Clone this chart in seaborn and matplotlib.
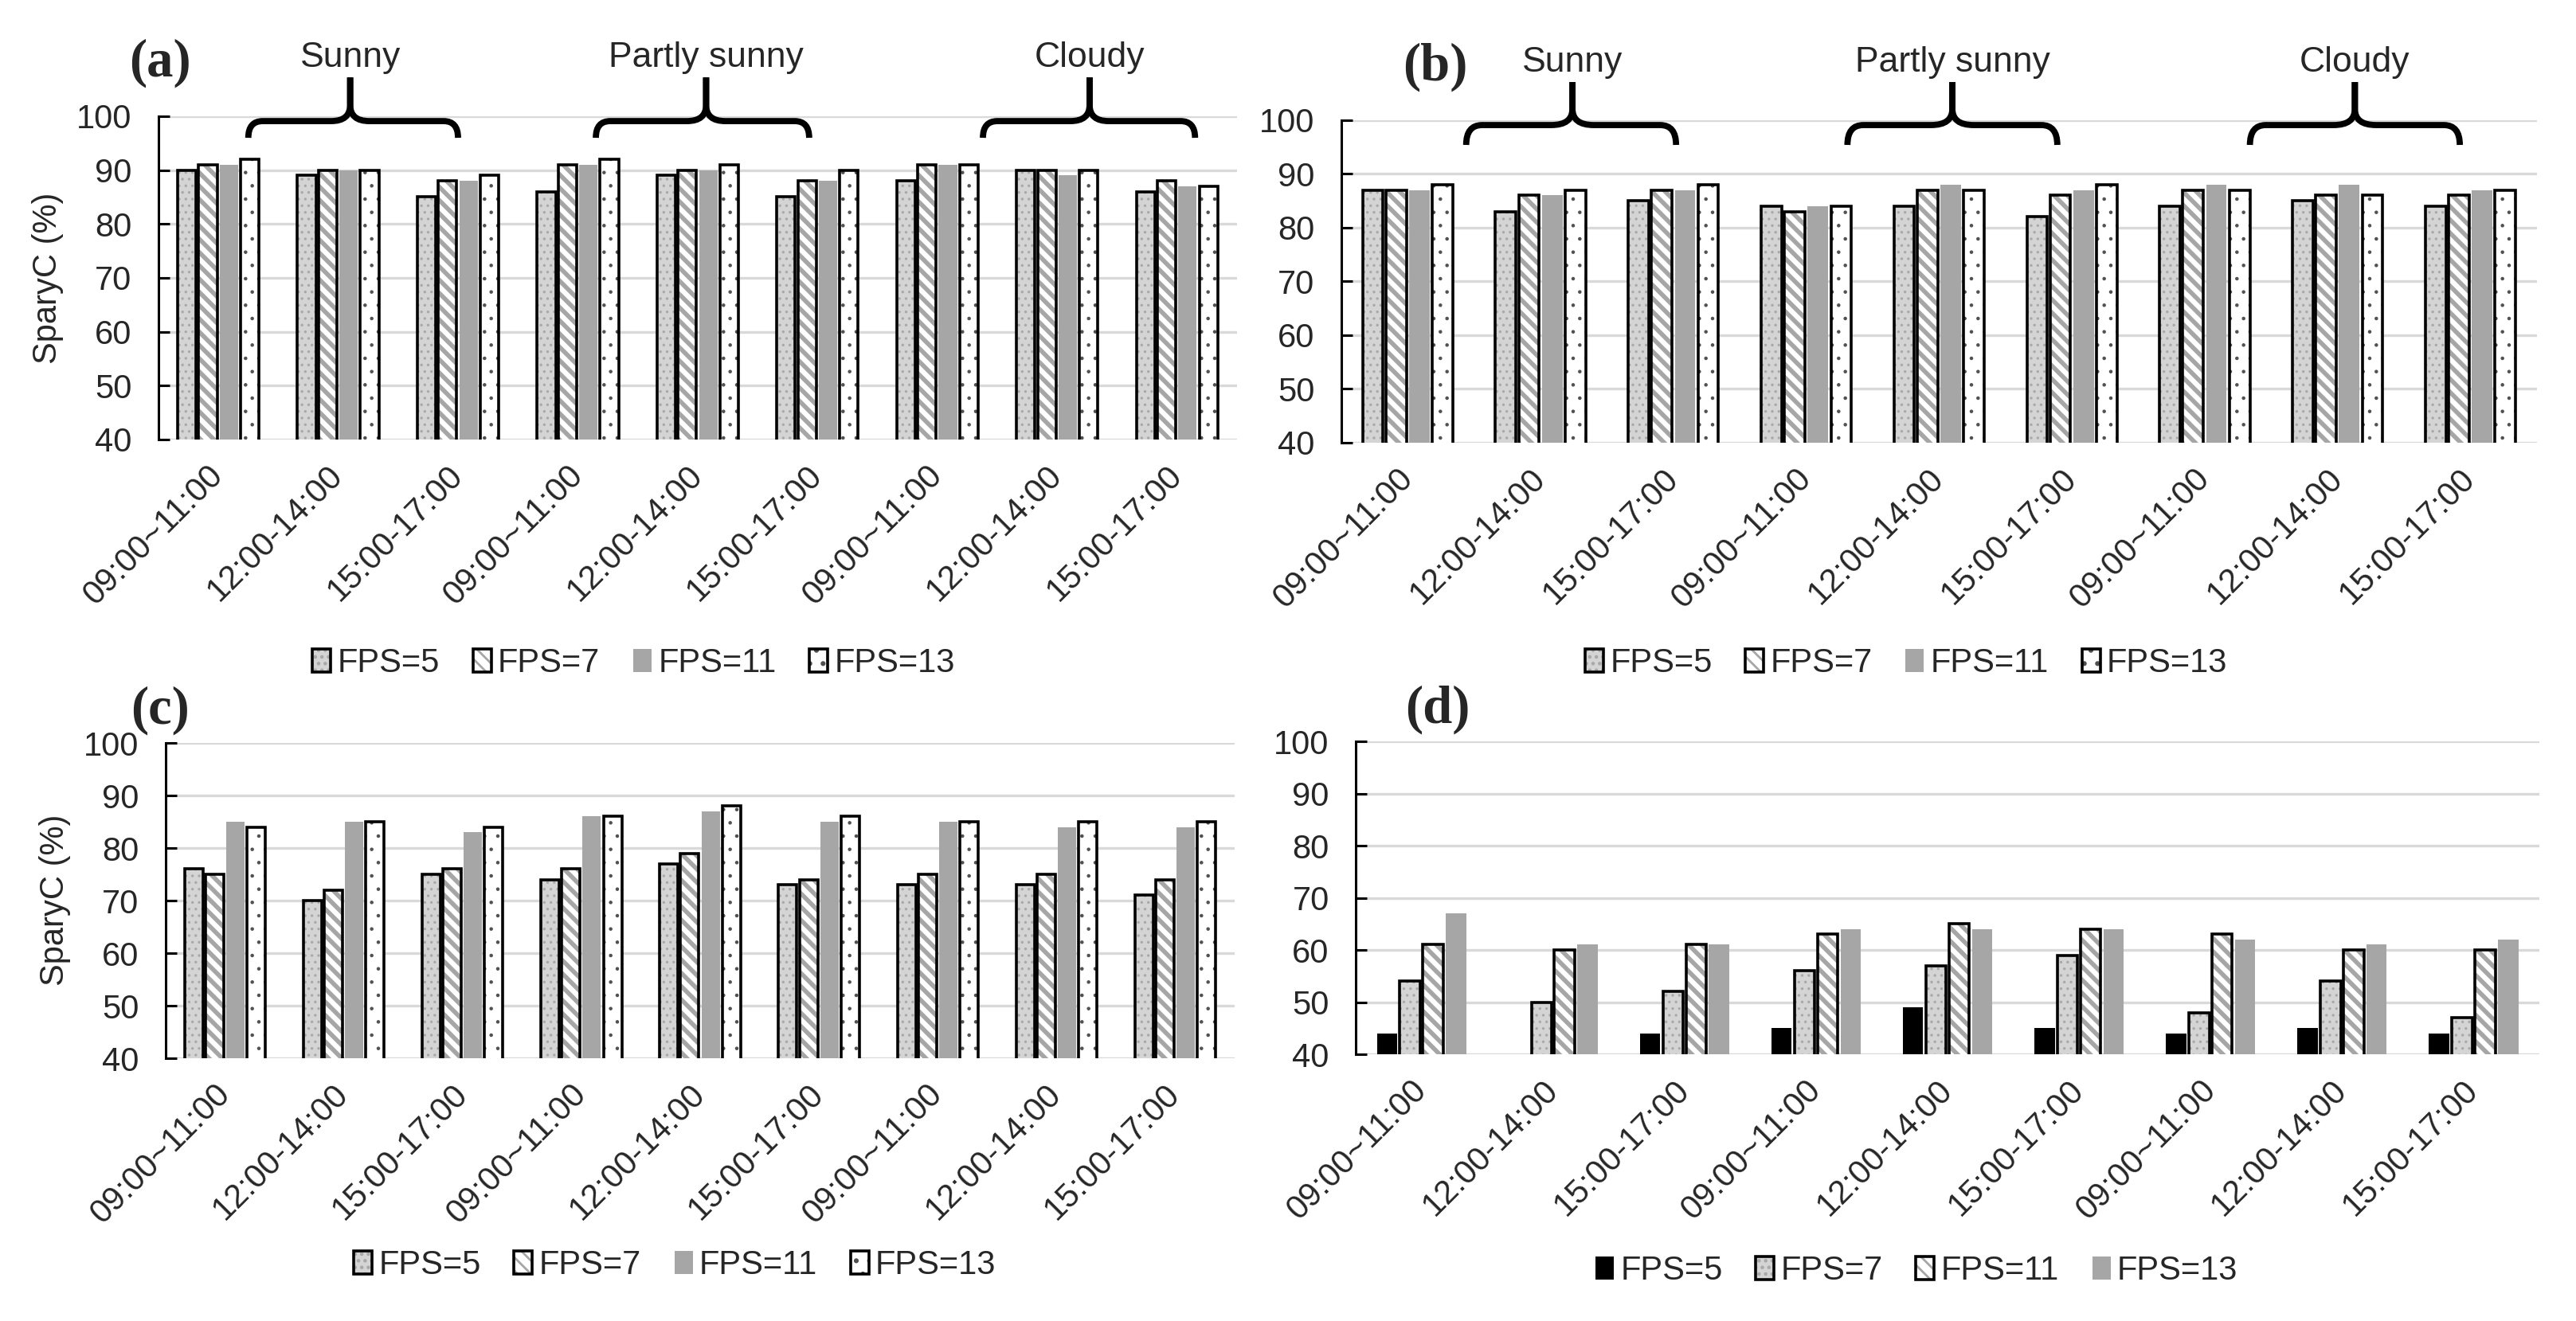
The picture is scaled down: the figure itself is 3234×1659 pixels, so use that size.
import pandas as pd
import seaborn as sns
import matplotlib.pyplot as plt
from matplotlib.patches import Patch, Rectangle, PathPatch
from matplotlib.path import Path
from matplotlib.legend_handler import HandlerTuple

# x categories (three weather blocks of three time windows)
periods = ["09:00~11:00", "12:00-14:00", "15:00-17:00"] * 3
weather = ["Sunny", "Partly sunny", "Cloudy"]
fps_levels = ["FPS=5", "FPS=7", "FPS=11", "FPS=13"]

# panel (a)
a_fps5 = [90, 89, 85, 86, 89, 85, 88, 90, 86]
a_fps7 = [91, 90, 88, 91, 90, 88, 91, 90, 88]
a_fps11 = [91, 90, 88, 91, 90, 88, 91, 89, 87]
a_fps13 = [92, 90, 89, 92, 91, 90, 91, 90, 87]

# panel (b)
b_fps5 = [87, 83, 85, 84, 84, 82, 84, 85, 84]
b_fps7 = [87, 86, 87, 83, 87, 86, 87, 86, 86]
b_fps11 = [87, 86, 87, 84, 88, 87, 88, 88, 87]
b_fps13 = [88, 87, 88, 84, 87, 88, 87, 86, 87]

# panel (c)
c_fps5 = [76, 70, 75, 74, 77, 73, 73, 73, 71]
c_fps7 = [75, 72, 76, 76, 79, 74, 75, 75, 74]
c_fps11 = [85, 85, 83, 86, 87, 85, 85, 84, 84]
c_fps13 = [84, 85, 84, 86, 88, 86, 85, 85, 85]

# panel (d)
d_fps5 = [44, 40, 44, 45, 49, 45, 44, 45, 44]
d_fps7 = [54, 50, 52, 56, 57, 59, 48, 54, 47]
d_fps11 = [61, 60, 61, 63, 65, 64, 63, 60, 60]
d_fps13 = [67, 61, 61, 64, 64, 64, 62, 61, 62]

sns.set_style("white")
plt.rcParams["font.family"] = ["Liberation Sans", "DejaVu Sans"]
plt.rcParams["hatch.linewidth"] = 1.0

GRAY = "#a6a6a6"

# bar looks: face, hatch, hatch colour, hatch width, outline
style_abc = {
    "FPS=5": dict(face="#d4d4d4", hatch="....", hcolor="#a8a8a8", hlw=0.6, edge="black"),
    "FPS=7": dict(face="white", hatch="\\\\\\\\", hcolor=GRAY, hlw=2.0, edge="black"),
    "FPS=11": dict(face=GRAY, hatch="", hcolor=GRAY, hlw=1.0, edge=None),
    "FPS=13": dict(face="white", hatch="..", hcolor="#505050", hlw=0.4, edge="black"),
}
style_d = {
    "FPS=5": dict(face="black", hatch="", hcolor="black", hlw=1.0, edge=None),
    "FPS=7": dict(face="#d4d4d4", hatch="....", hcolor="#a8a8a8", hlw=0.6, edge="black"),
    "FPS=11": dict(face="white", hatch="\\\\\\\\", hcolor=GRAY, hlw=2.0, edge="black"),
    "FPS=13": dict(face=GRAY, hatch="", hcolor=GRAY, hlw=1.0, edge=None),
}


def make_frame(series):
    rows = []
    for fps, vals in zip(fps_levels, series):
        for i, v in enumerate(vals):
            rows.append({"slot": f"s{i}", "fps": fps, "value": v})
    return pd.DataFrame(rows)


def apply_look(p, st):
    p.set_facecolor(st["face"])
    p.set_hatch(st["hatch"])
    p.set_edgecolor(st["hcolor"])
    p.set_linewidth(0)
    if hasattr(p, "set_hatch_linewidth"):
        p.set_hatch_linewidth(st["hlw"])


def style_bars(ax, styles):
    for fps, cont in zip(fps_levels, ax.containers):
        st = styles[fps]
        for p in cont.patches:
            apply_look(p, st)
            if st["edge"]:
                ax.add_patch(Rectangle((p.get_x(), p.get_y()), p.get_width(), p.get_height(),
                                       fill=False, edgecolor=st["edge"], lw=1.3, zorder=p.get_zorder() + 0.1))


def legend_handles(styles):
    handles = []
    for fps in fps_levels:
        st = styles[fps]
        base = Patch()
        apply_look(base, st)
        if st["edge"]:
            handles.append((base, Patch(fill=False, edgecolor=st["edge"], lw=1.3)))
        else:
            handles.append((base,))
    return handles


def draw_brace(ax, x0, x1, xt, y_low, y_mid, y_tip, label, label_y):
    r, rt, dy = 0.12, 0.16, 3.0
    codes = [Path.MOVETO, Path.CURVE3, Path.CURVE3, Path.LINETO, Path.CURVE3, Path.CURVE3, Path.LINETO]
    left = [(x0, y_low), (x0, y_mid), (x0 + r, y_mid), (xt - rt, y_mid), (xt, y_mid), (xt, y_mid + dy), (xt, y_tip)]
    right = [(x1, y_low), (x1, y_mid), (x1 - r, y_mid), (xt + rt, y_mid), (xt, y_mid), (xt, y_mid + dy), (xt, y_tip)]
    for verts in (left, right):
        ax.add_patch(PathPatch(Path(verts, codes), fill=False, lw=2.8, edgecolor="black",
                               clip_on=False, capstyle="butt", joinstyle="round"))
    ax.text(xt, label_y, label, ha="center", va="center", fontsize=16, clip_on=False)


def draw_panel(fig, rect, series, styles, legend_xy, ylabel=None):
    ax = fig.add_axes(rect)
    df = make_frame(series)
    sns.barplot(data=df, x="slot", y="value", hue="fps", hue_order=fps_levels,
                order=[f"s{i}" for i in range(len(periods))], width=0.7, gap=0.12,
                errorbar=None, legend=False, ax=ax)
    style_bars(ax, styles)
    ax.set_ylim(40, 100)
    ax.set_xlim(-0.5, len(periods) - 0.5)
    ax.set_yticks(range(40, 101, 10))
    ax.yaxis.grid(True, color="#d9d9d9", lw=1.2)
    ax.xaxis.grid(False)
    ax.set_axisbelow(True)
    for s in ["top", "right", "bottom"]:
        ax.spines[s].set_visible(False)
    ax.spines["left"].set_color("black")
    ax.spines["left"].set_linewidth(1.1)
    ax.tick_params(axis="y", direction="in", length=5, width=1.1, color="black",
                   labelsize=15, pad=12, left=True)
    ax.tick_params(axis="x", length=0, labelsize=15, pad=14)
    ax.set_xticks(range(len(periods)))
    ax.set_xticklabels(periods, rotation=45, ha="right", va="center", rotation_mode="anchor")
    ax.set_xlabel("")
    ax.set_ylabel("")
    if ylabel:
        fig.text(ylabel[0], ylabel[1], "SparyC (%)", rotation=90, ha="center", va="center", fontsize=15)
    fig.legend(legend_handles(styles), fps_levels, loc="center", bbox_to_anchor=legend_xy,
               ncol=4, frameon=False, fontsize=15, handlelength=0.55, handleheight=0.7,
               handletextpad=0.2, columnspacing=1.0,
               handler_map={tuple: HandlerTuple(ndivide=1, pad=0)})
    return ax


fig = plt.figure(figsize=(16.17, 8.295), dpi=200)

ax_a = draw_panel(fig, [0.0615, 0.6673, 0.4187, 0.2447], [a_fps5, a_fps7, a_fps11, a_fps13],
                  style_abc, (0.246, 0.498), ylabel=(0.0186, 0.7897))
ax_b = draw_panel(fig, [0.5207, 0.6649, 0.4641, 0.2441], [b_fps5, b_fps7, b_fps11, b_fps13],
                  style_abc, (0.740, 0.498))
ax_c = draw_panel(fig, [0.0643, 0.1989, 0.4150, 0.2387], [c_fps5, c_fps7, c_fps11, c_fps13],
                  style_abc, (0.262, 0.042), ylabel=(0.0213, 0.3187))
ax_d = draw_panel(fig, [0.5263, 0.2019, 0.4595, 0.2369], [d_fps5, d_fps7, d_fps11, d_fps13],
                  style_d, (0.744, 0.038))

# weather braces over (a) and (b)
for (x0, x1, xt), name in zip([(0.25, 2.0, 1.1), (3.15, 4.93, 4.07), (6.38, 8.15, 7.27)], weather):
    draw_brace(ax_a, x0, x1, xt, 96.0, 99.1, 107.2, name, 110.8)
for (x0, x1, xt), name in zip([(0.44, 2.02, 1.24), (3.31, 4.89, 4.1), (6.34, 7.92, 7.13)], weather):
    draw_brace(ax_b, x0, x1, xt, 95.4, 99.1, 107.1, name, 110.8)

# panel letters
for (x, y), letter in zip([(0.062, 0.952), (0.557, 0.949), (0.062, 0.462), (0.558, 0.463)], "abcd"):
    fig.text(x, y, f"({letter})", ha="center", va="center", fontsize=24,
             fontweight="bold", family="Liberation Serif")

fig.savefig("out.png", dpi=200)
